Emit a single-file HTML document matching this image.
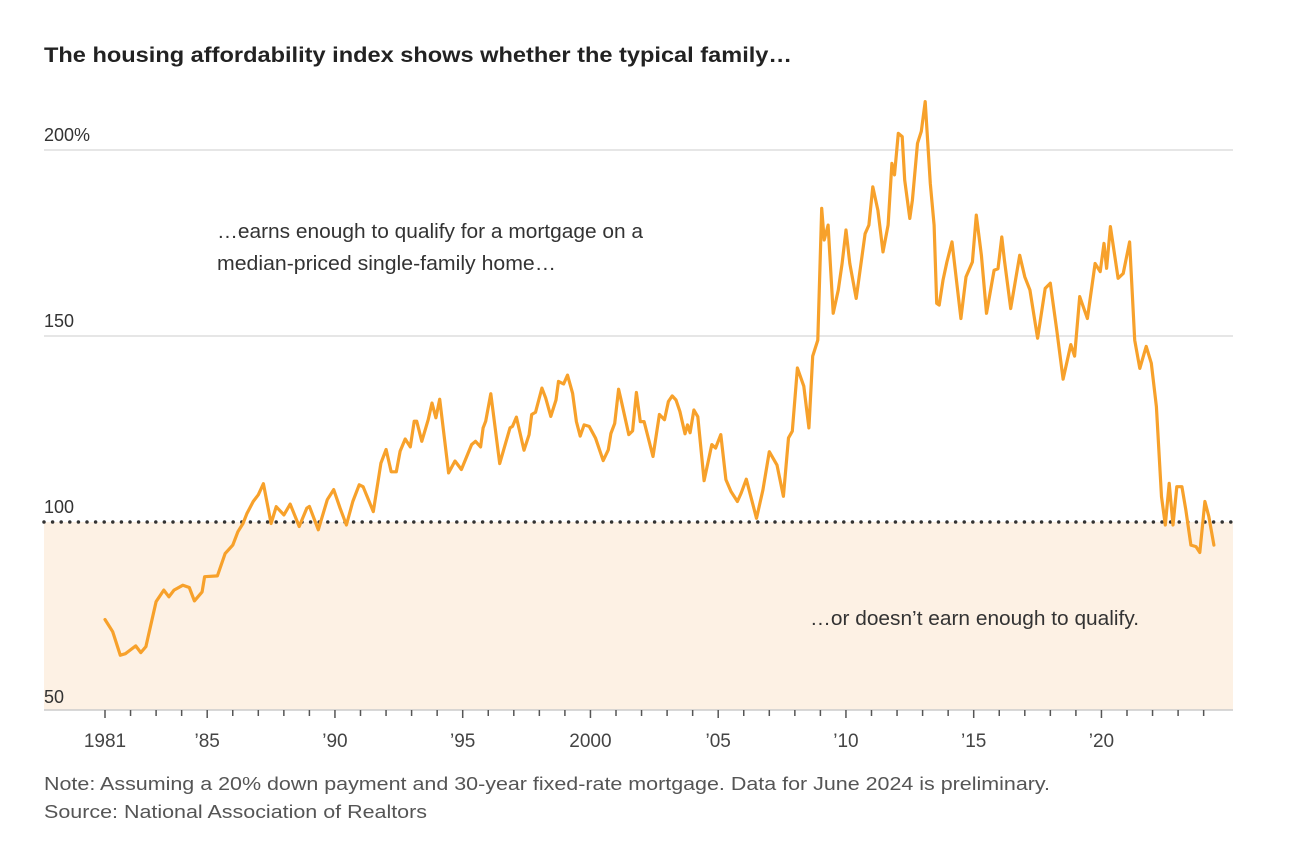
<!DOCTYPE html>
<html><head><meta charset="utf-8"><style>
body{margin:0;background:#fff;}
svg{display:block;font-family:"Liberation Sans",sans-serif;}
</style></head><body>
<svg width="1292" height="842" viewBox="0 0 1292 842">
<text x="44" y="62" font-size="21" font-weight="bold" fill="#222" textLength="748" lengthAdjust="spacingAndGlyphs">The housing affordability index shows whether the typical family…</text>
<rect x="44" y="522" width="1189" height="188" fill="#fdf1e4"/>
<g id="grid"></g>
<g id="xaxis"></g>
<text x="217" y="238" font-size="20" fill="#333" textLength="426" lengthAdjust="spacingAndGlyphs">…earns enough to qualify for a mortgage on a</text>
<text x="217" y="270" font-size="20" fill="#333" textLength="339" lengthAdjust="spacingAndGlyphs">median-priced single-family home…</text>
<text x="810" y="625" font-size="20" fill="#333" textLength="329" lengthAdjust="spacingAndGlyphs">…or doesn’t earn enough to qualify.</text>
<g id="series"></g>
<text x="44" y="790" font-size="18" fill="#555" textLength="1006" lengthAdjust="spacingAndGlyphs">Note: Assuming a 20% down payment and 30-year fixed-rate mortgage. Data for June 2024 is preliminary.</text>
<text x="44" y="818" font-size="18" fill="#555" textLength="383" lengthAdjust="spacingAndGlyphs">Source: National Association of Realtors</text>
</svg>
<script>
const years=[1981.0,1981.3,1981.6,1981.8,1982.2,1982.4,1982.6,1983.0,1983.3,1983.5,1983.7,1984.05,1984.3,1984.5,1984.8,1984.9,1985.4,1985.7,1986.0,1986.2,1986.4,1986.55,1986.8,1987.0,1987.2,1987.5,1987.7,1988.0,1988.25,1988.6,1988.9,1989.0,1989.35,1989.7,1989.95,1990.2,1990.45,1990.7,1990.95,1991.1,1991.5,1991.8,1992.0,1992.2,1992.4,1992.55,1992.75,1992.95,1993.1,1993.2,1993.4,1993.65,1993.8,1993.95,1994.1,1994.45,1994.7,1994.95,1995.35,1995.5,1995.7,1995.8,1995.9,1996.1,1996.45,1996.85,1996.95,1997.1,1997.4,1997.6,1997.7,1997.85,1998.1,1998.25,1998.45,1998.65,1998.75,1998.95,1999.1,1999.3,1999.45,1999.6,1999.75,1999.95,2000.2,2000.5,2000.7,2000.8,2000.95,2001.1,2001.2,2001.5,2001.65,2001.8,2001.95,2002.1,2002.45,2002.7,2002.9,2003.05,2003.2,2003.35,2003.5,2003.7,2003.8,2003.9,2004.05,2004.2,2004.45,2004.75,2004.9,2005.1,2005.3,2005.5,2005.75,2005.9,2006.1,2006.5,2006.75,2007.0,2007.3,2007.55,2007.75,2007.9,2008.1,2008.35,2008.55,2008.7,2008.9,2009.05,2009.15,2009.3,2009.5,2009.7,2009.85,2010.0,2010.15,2010.4,2010.75,2010.9,2011.05,2011.25,2011.45,2011.65,2011.8,2011.9,2012.05,2012.2,2012.3,2012.5,2012.6,2012.8,2012.95,2013.1,2013.3,2013.45,2013.55,2013.65,2013.8,2013.95,2014.15,2014.5,2014.7,2014.95,2015.1,2015.3,2015.5,2015.8,2015.95,2016.1,2016.2,2016.45,2016.8,2017.0,2017.2,2017.5,2017.8,2018.0,2018.25,2018.5,2018.8,2018.95,2019.15,2019.45,2019.75,2019.95,2020.1,2020.2,2020.35,2020.65,2020.85,2021.1,2021.3,2021.5,2021.75,2021.95,2022.15,2022.35,2022.5,2022.65,2022.8,2022.95,2023.15,2023.3,2023.5,2023.7,2023.85,2024.05,2024.2,2024.4];
const values=[73.8,70.5,64.2,64.6,66.7,64.9,66.5,78.6,81.7,79.9,81.7,83.0,82.4,78.8,81.2,85.3,85.5,91.5,93.8,97.4,99.6,102.2,105.5,107.3,110.3,99.6,104.1,101.9,104.8,98.8,103.7,104.2,97.9,106,108.7,103.7,99.2,105.5,110,109.5,102.8,115.8,119.5,113.5,113.5,119,122.3,120.2,127.1,127.1,121.7,127.5,132,128,133,113.2,116.4,114.1,120.8,121.7,120.2,125.3,127.1,134.5,115.7,125.3,125.7,128.2,119.3,123.5,128.9,129.5,136,133.3,128.4,132.8,137.8,137.1,139.5,134.6,127,123.1,126.1,125.7,122.5,116.5,119.4,123.8,126.5,135.7,132.8,123.5,124.5,134.8,127,127,117.6,128.9,127.5,132.4,133.9,132.8,129.7,123.7,126.1,124,130.1,128.3,111.1,120.8,119.9,123.5,111.4,108.2,105.5,107.8,111.5,101,108.6,118.9,115.3,106.9,122.6,124.4,141.4,136.5,125.3,144.6,148.9,184.3,175.8,179.8,156.1,162.4,169.5,178.5,169.5,160.1,177.5,179.8,190.1,183.8,172.6,179.8,196.4,193.3,204.5,203.6,191.9,181.6,186.5,201.8,205,213,191,179.8,158.8,158.3,165,169.9,175.3,154.7,165.9,169.9,182.5,171.7,156.1,167.7,168.1,176.6,170.4,157.4,171.7,165.9,162.4,149.4,162.8,164.2,151.7,138.4,147.7,144.6,160.6,154.7,169.5,167.3,174.9,168.2,179.4,165.5,166.8,175.3,148.9,141.3,147.2,142.7,131,106.8,99.2,110.4,99.2,109.5,109.5,103.3,93.8,93.4,91.8,105.5,101.5,93.8];
const yTicks=[50,100,150,200];
const yTickLabels=["50","100","150","200%"];
const xTickYears=[1981,1985,1990,1995,2000,2005,2010,2015,2020];
const xTickLabels=["1981","’85","’90","’95","2000","’05","’10","’15","’20"];

const NS="http://www.w3.org/2000/svg";
const X0=44,X1=1233;
function xs(yr){return 105+(yr-1981)*25.55;}
function ys(v){return 522-(v-100)*3.72;}
function mk(tag,attrs,parent){const e=document.createElementNS(NS,tag);for(const k in attrs)e.setAttribute(k,attrs[k]);parent.appendChild(e);return e;}
const grid=document.getElementById('grid');
yTicks.forEach((t,i)=>{
  if(t===150||t===200){
    const l=mk('line',{x1:X0,x2:X1,y1:ys(t),y2:ys(t),stroke:'#ddd','stroke-width':1.5},grid);
    
    
  }
  const tx=mk('text',{x:X0,y:ys(t)-(t===50?5:9),'font-size':18,fill:'#333'},grid);
  tx.textContent=yTickLabels[i];
  
  
});
const xa=document.getElementById('xaxis');
const base=mk('line',{x1:X0,x2:X1,y1:710,y2:710,stroke:'#ccc','stroke-width':1.5},xa);


for(let yr=1981;yr<=2024;yr++){
  const major=xTickYears.indexOf(yr)>=0;
  const t=mk('line',{x1:xs(yr),x2:xs(yr),y1:710,y2:major?718:716,stroke:'#555','stroke-width':1.5},xa);
  
  
}
xTickYears.forEach((yr,i)=>{
  const tx=mk('text',{x:xs(yr),y:747,'font-size':19,fill:'#444','text-anchor':'middle'},xa);
  tx.textContent=xTickLabels[i];
  
  
});
const ref=mk('line',{x1:X0,x2:X1,y1:ys(100),y2:ys(100),stroke:'#333','stroke-width':3.5,'stroke-dasharray':'0 8.6','stroke-linecap':'round'},xa);


const s=document.getElementById('series');
const d=years.map((y,i)=>(i?'L':'M')+xs(y).toFixed(1)+','+ys(values[i]).toFixed(1)).join('');
const p=mk('path',{d:d,fill:'none',stroke:'#f7a12b','stroke-width':3.2,'stroke-linejoin':'round','stroke-linecap':'round'},s);


</script>
</body></html>
